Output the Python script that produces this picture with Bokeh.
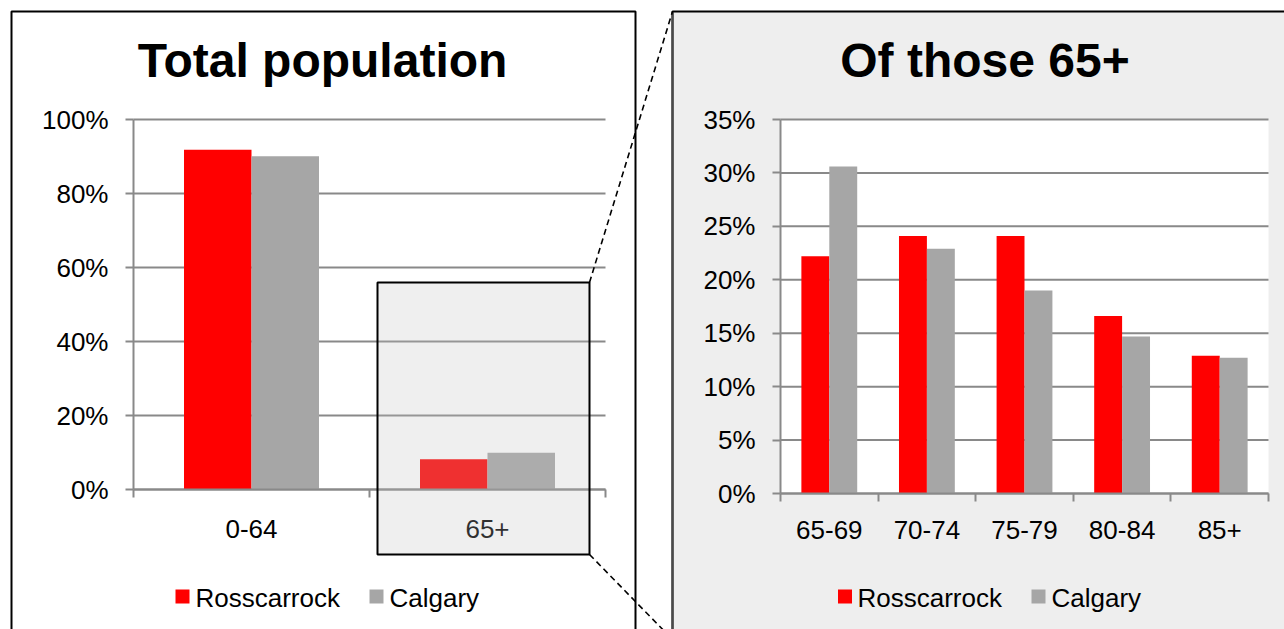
from bokeh.plotting import figure
from bokeh.models import Range1d, LinearAxis, FixedTicker, ColumnDataSource
from bokeh.core.properties import value
from bokeh.embed import file_html
from bokeh.resources import INLINE

# ---------------- data ----------------
series_names = ["Rosscarrock", "Calgary"]
series_colors = ["#FF0000", "#A6A6A6"]
titles = ["Total population", "Of those 65+"]

total_groups = ["0-64", "65+"]
total_rosscarrock = [91.8, 8.2]
total_calgary = [90.1, 9.9]
total_ticks = [0, 20, 40, 60, 80, 100]
total_tick_labels = ["0%", "20%", "40%", "60%", "80%", "100%"]

senior_groups = ["65-69", "70-74", "75-79", "80-84", "85+"]
senior_rosscarrock = [22.2, 24.1, 24.1, 16.6, 12.9]
senior_calgary = [30.6, 22.9, 19.0, 14.7, 12.7]
senior_ticks = [0, 5, 10, 15, 20, 25, 30, 35]
senior_tick_labels = ["0%", "5%", "10%", "15%", "20%", "25%", "30%", "35%"]

# ---------------- layout (page pixels) ----------------
W, H = 1284, 629
PX0, PY0 = 0, 0
PX1, PY1 = PX0 + W, PY0 + H
AX = "#898989"
FONT = "Liberation Sans"
BAR_W = 0.286


def mapped_range(v0, p0, v1, p1, page_start, page_end):
    k = (p1 - p0) / (v1 - v0)
    return Range1d(start=v0 + (page_start - p0) / k, end=v0 + (page_end - p0) / k)


p = figure(width=W, height=H, x_range=Range1d(PX0, PX1), y_range=Range1d(PY1, PY0),
           x_axis_location=None, y_axis_location=None, toolbar_location=None,
           output_backend="svg", min_border=0, outline_line_color=None,
           background_fill_color="white", border_fill_color="white")
p.grid.visible = False

# chart coordinate systems: value -> page pixel
p.extra_x_ranges = {
    "Lx": mapped_range(0, 133, len(total_groups), 605, PX0, PX1),
    "Rx": mapped_range(0, 780, len(senior_groups), 1268, PX0, PX1),
}
p.extra_y_ranges = {
    "Ly": mapped_range(0, 489, total_ticks[-1], 119, PY1, PY0),
    "Ry": mapped_range(0, 493, senior_ticks[-1], 119, PY1, PY0),
}

# panels
p.quad(left=[11], right=[635], top=[11], bottom=[660], fill_color="white",
       line_color="black", line_width=2)
p.quad(left=[672], right=[1310], top=[11], bottom=[660], fill_color="#EEEEEE",
       line_color="black", line_width=2)
p.segment(x0=[672], x1=[672], y0=[12], y1=[660], line_color="#4a4a4a", line_width=2)
# white plot area of the right chart
p.quad(left=[0], right=[len(senior_groups)], bottom=[0], top=[senior_ticks[-1]],
       fill_color="white", line_color=None, x_range_name="Rx", y_range_name="Ry")


def chart(groups, ross, cal, ticks, tick_labels, xr, yr, x_standoff):
    n = len(groups)
    # gridlines
    p.segment(x0=[0] * len(ticks), x1=[n] * len(ticks), y0=ticks, y1=ticks,
              line_color=AX, line_width=2, x_range_name=xr, y_range_name=yr)
    # bars
    for vals, color, off in ((ross, series_colors[0], -BAR_W / 2),
                             (cal, series_colors[1], BAR_W / 2)):
        src = ColumnDataSource(dict(x=[i + 0.5 + off for i in range(n)], top=vals, group=groups))
        p.vbar(x="x", top="top", bottom=0, width=BAR_W, source=src, fill_color=color,
               line_color=None, x_range_name=xr, y_range_name=yr)
    common = dict(x_range_name=xr, y_range_name=yr, axis_line_color=AX, axis_line_width=2,
                  major_label_text_font=FONT, major_label_text_font_size="26px",
                  major_label_text_color="black")
    yax = LinearAxis(fixed_location=0, bounds=(0, ticks[-1]),
                     ticker=FixedTicker(ticks=ticks, minor_ticks=[]),
                     major_label_overrides={t: l for t, l in zip(ticks, tick_labels)},
                     major_tick_out=8, major_tick_in=0, major_tick_line_color=AX,
                     major_tick_line_width=2, minor_tick_out=0, minor_tick_in=0,
                     major_label_standoff=17, **common)
    p.add_layout(yax, "left")
    centers = [i + 0.5 for i in range(n)]
    xax = LinearAxis(fixed_location=0, bounds=(0, n),
                     ticker=FixedTicker(ticks=centers, minor_ticks=list(range(n + 1))),
                     major_label_overrides={c: g for c, g in zip(centers, groups)},
                     major_tick_out=0, major_tick_in=0, minor_tick_out=8, minor_tick_in=0,
                     minor_tick_line_color=AX, minor_tick_line_width=2,
                     major_label_standoff=x_standoff, **common)
    p.add_layout(xax, "below")


chart(total_groups, total_rosscarrock, total_calgary, total_ticks, total_tick_labels, "Lx", "Ly", 22)
chart(senior_groups, senior_rosscarrock, senior_calgary, senior_ticks, senior_tick_labels, "Rx", "Ry", 19)

# titles
p.text(x=[322, 984.5], y=[60, 60], text=titles, text_font=value(FONT), text_font_style="bold",
       text_font_size=value("48px"), text_align="center", text_baseline="middle",
       text_color="black")

# legends (one per panel)
legend_square_x = [[182, 376], [844.5, 1038]]
legend_text_x = [[195, 389], [857, 1051]]
for sq_x, tx_x in zip(legend_square_x, legend_text_x):
    p.rect(x=sq_x, y=[596, 596], width=14, height=14, fill_color=series_colors, line_color=None)
    p.text(x=tx_x, y=[597, 597], text=series_names, text_font=value(FONT),
           text_font_size=value("26px"), text_align="left", text_baseline="middle",
           text_color="black")

# dashed zoom connectors
p.segment(x0=[589, 589], y0=[282, 554], x1=[672, 672], y1=[11, 639],
          line_color="black", line_width=1.6, line_dash="6 4")

# highlight box over the 65+ group
p.quad(left=[377], right=[589], top=[282], bottom=[554], fill_color="#BEBEBE",
       fill_alpha=0.25, line_color="black", line_width=2, level="overlay")

open("out.html", "w").write(file_html(p, INLINE))
